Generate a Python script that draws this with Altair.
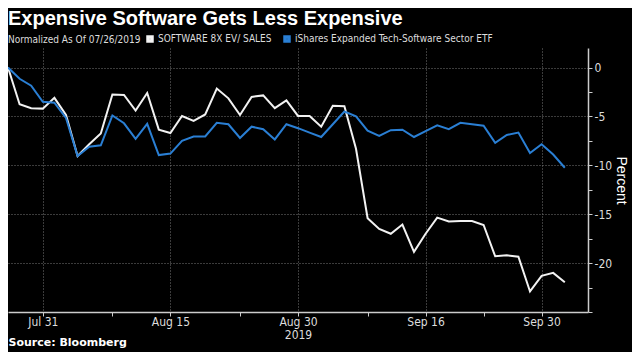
import altair as alt
import pandas as pd

dates = ["2019-07-26", "2019-07-29", "2019-07-30", "2019-07-31", "2019-08-01", "2019-08-02",
         "2019-08-05", "2019-08-06", "2019-08-07", "2019-08-08", "2019-08-09",
         "2019-08-12", "2019-08-13", "2019-08-14", "2019-08-15", "2019-08-16",
         "2019-08-19", "2019-08-20", "2019-08-21", "2019-08-22", "2019-08-23",
         "2019-08-26", "2019-08-27", "2019-08-28", "2019-08-29", "2019-08-30",
         "2019-09-02", "2019-09-03", "2019-09-04", "2019-09-05", "2019-09-06",
         "2019-09-09", "2019-09-10", "2019-09-11", "2019-09-12", "2019-09-13",
         "2019-09-16", "2019-09-17", "2019-09-18", "2019-09-19", "2019-09-20",
         "2019-09-23", "2019-09-24", "2019-09-25", "2019-09-26", "2019-09-27",
         "2019-09-30", "2019-10-01", "2019-10-02"]

software = [0, -3.75, -4.15, -4.2, -3.1, -4.85,
            -9.05, -7.85, -6.75, -2.75, -2.8,
            -4.4, -2.6, -6.35, -6.7, -4.95,
            -5.45, -4.8, -2.15, -3.15, -4.85,
            -3.0, -2.85, -4.15, -3.35, -4.95,
            -4.95, -6.05, -3.9, -3.95, -8.3,
            -15.4, -16.5, -17.0, -16.05, -18.85,
            -17.0, -15.35, -15.75, -15.7, -15.7,
            -16.1, -19.3, -19.2, -19.35, -22.9,
            -21.3, -21.0, -21.95]

etf = [0, -1.15, -1.85, -3.5, -3.6, -5.15,
       -9.05, -8.1, -7.95, -4.9, -5.7,
       -7.3, -5.75, -8.95, -8.8, -7.5,
       -7.05, -7.05, -5.65, -5.8, -7.2,
       -6.05, -6.3, -7.35, -5.8, -6.2,
       -6.65, -7.1, -5.8, -4.5, -5.0,
       -6.45, -7.0, -6.4, -6.35, -7.1,
       -6.5, -5.9, -6.3, -5.65, -5.8,
       -5.95, -7.7, -6.9, -6.65, -8.75,
       -7.85, -8.9, -10.25]

series_names = ["SOFTWARE 8X EV/ SALES", "iShares Expanded Tech-Software Sector ETF"]
series_colors = ["#f2f2f2", "#2a7fd4"]

major_ticks = [3, 14, 25, 36, 46]
major_labels = ["Jul 31", "Aug 15", "Aug 30\n2019", "Sep 16", "Sep 30"]
minor_ticks = [9, 20, 31, 41]
y_ticks = [0, -2.5, -5, -7.5, -10, -12.5, -15, -17.5, -20, -22.5, -25]

rows = []
for i, d in enumerate(dates):
    rows.append({"idx": i, "date": d, "series": series_names[0], "value": software[i]})
    rows.append({"idx": i, "date": d, "series": series_names[1], "value": etf[i]})
df = pd.DataFrame(rows)

parts = []
for t, lab in zip(major_ticks, major_labels):
    if "\n" in lab:
        a, b = lab.split("\n")
        parts.append(f"datum.value == {t} ? ['{a}', '{b}']")
    else:
        parts.append(f"datum.value == {t} ? '{lab}'")
x_label_expr = " : ".join(parts) + " : ''"
major_test = " || ".join(f"datum.value == {t}" for t in major_ticks)

FONT = "DejaVu Sans Condensed, Liberation Sans, sans-serif"

chart = alt.Chart(df).mark_line(strokeWidth=2).encode(
    x=alt.X("idx:Q",
            scale=alt.Scale(domain=[0, 50], nice=False, zero=False),
            axis=alt.Axis(values=sorted(major_ticks + minor_ticks),
                          labelExpr=x_label_expr,
                          title="Source: Bloomberg",
                          titleX=0, titleY=33, titleAlign="left", titleAnchor="start",
                          titleBaseline="alphabetic",
                          titleFont="DejaVu Sans", titleFontSize=11, titleFontWeight="bold",
                          titleColor="#ffffff",
                          labelFont=FONT, labelFontSize=12, labelColor="#dddddd",
                          labelPadding=0, labelLineHeight=13,
                          domainColor="#cccccc", domainWidth=1.5,
                          tickColor="#cccccc", tickSize=4,
                          grid=True, gridColor="#777777", gridDash=[1, 2],
                          gridOpacity=alt.condition(major_test, alt.value(1), alt.value(0)))),
    y=alt.Y("value:Q",
            scale=alt.Scale(domain=[-25, 2], nice=False, zero=False),
            axis=alt.Axis(orient="right", values=y_ticks,
                          labelExpr="datum.value % 5 == 0 && datum.value > -25 ? '' + datum.value : ''",
                          title="Percent", titleFont="Liberation Sans", titleFontSize=14,
                          titleFontWeight="normal", titleColor="#ffffff", titlePadding=2,
                          labelFont=FONT, labelFontSize=12, labelColor="#dddddd",
                          labelPadding=2,
                          domainColor="#cccccc", domainWidth=1.5,
                          tickColor="#cccccc", tickSize=4,
                          grid=True, gridColor="#777777", gridDash=[1, 2],
                          gridOpacity=alt.condition("datum.value % 5 == 0 && datum.value > -25",
                                                    alt.value(1), alt.value(0)))),
    color=alt.Color("series:N",
                    scale=alt.Scale(domain=series_names, range=series_colors),
                    legend=alt.Legend(orient="none", legendX=137, legendY=-14,
                                      direction="horizontal", title=None,
                                      symbolType="square", symbolSize=16,
                                      symbolStrokeWidth=3.5,
                                      labelFont=FONT, labelFontSize=10,
                                      labelColor="#dddddd", labelLimit=400,
                                      columnPadding=6, symbolOffset=0, labelOffset=3)),
).properties(
    width=580,
    height=264,
    padding={"left": 0, "top": 40, "right": 44, "bottom": 40},
    autosize=alt.AutoSizeParams(type="none"),
    background="#000000",
    title=alt.TitleParams(
        text="Expensive Software Gets Less Expensive",
        subtitle="Normalized As Of 07/26/2019",
        anchor="start", frame="group", offset=-11, dx=0,
        font="Liberation Sans", fontSize=20, fontWeight="bold", color="#ffffff",
        subtitleFont=FONT, subtitleFontSize=10, subtitleColor="#dddddd",
        subtitlePadding=6,
    ),
).configure_view(stroke=None)

chart.save("out.html", embed_options={"renderer": "svg", "actions": False})
